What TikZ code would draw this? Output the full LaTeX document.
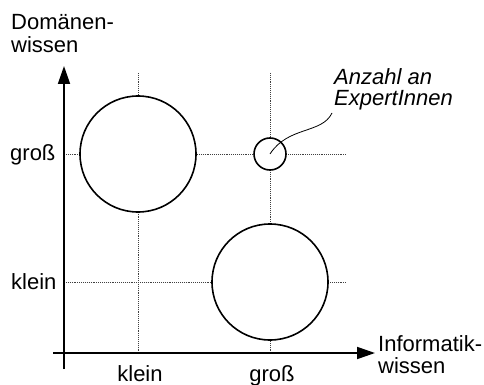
\documentclass[tikz,border=0pt]{standalone}
\usepackage{fontspec}
\setmainfont{Liberation Sans}
\usetikzlibrary{arrows.meta}
\begin{document}
\begin{tikzpicture}[x=1pt,y=-1pt,
  lbl/.style={inner sep=0pt,font=\fontsize{22}{23}\selectfont},
  grid/.style={densely dotted,line width=0.9pt,black!75},
  axis/.style={line width=1.8pt,-{Triangle[length=18pt,width=12pt]}},
  bubble/.style={circle,draw,line width=1.6pt,fill=white,inner sep=0pt}]
\useasboundingbox (0,0) rectangle (484,385);
% grid
\coordinate (vk0) at (138,73);  \coordinate (vk1) at (138,353);
\coordinate (vg0) at (270,73);  \coordinate (vg1) at (270,353);
\coordinate (hg0) at (64,154);  \coordinate (hg1) at (347,154);
\coordinate (hk0) at (64,282);  \coordinate (hk1) at (347,282);
\draw[grid] (vk0) -- (vk1);
\draw[grid] (vg0) -- (vg1);
\draw[grid] (hg0) -- (hg1);
\draw[grid] (hk0) -- (hk1);
% axes
\coordinate (ya0) at (64,369); \coordinate (ya1) at (64,66);
\coordinate (xa0) at (53,353); \coordinate (xa1) at (375,353);
\draw[axis] (ya0) -- (ya1);
\draw[axis] (xa0) -- (xa1);
% bubbles
\node[bubble,minimum size=116pt] (c1) at (138,154) {};
\node[bubble,minimum size=32pt] (c2) at (270,154) {};
\node[bubble,minimum size=116pt] (c3) at (270,282) {};
% labels
\node[lbl,anchor=base west] (d1) at (11,30) {Domänen-};
\node[lbl,anchor=base west] (d2) at (11,53) {wissen};
\node[lbl,anchor=base west] (i1) at (378,351) {Informatik-};
\node[lbl,anchor=base west] (i2) at (378,373) {wissen};
\node[lbl,anchor=base west] (yg) at (10,160) {groß};
\node[lbl,anchor=base west] (yk) at (11,289) {klein};
\node[lbl,anchor=base] (xk) at (140,381) {klein};
\node[lbl,anchor=base] (xg) at (272,381) {groß};
\node[lbl,anchor=base west,font=\fontsize{22}{23}\selectfont\itshape] (a1) at (334,85) {Anzahl an};
\node[lbl,anchor=base west,font=\fontsize{22}{23}\selectfont\itshape] (a2) at (334,106) {ExpertInnen};
\coordinate (pe) at (332,113);
\draw[line width=0.8pt] (c2.center) .. controls (288,126) and (322,134) .. (pe);
\end{tikzpicture}
\end{document}
